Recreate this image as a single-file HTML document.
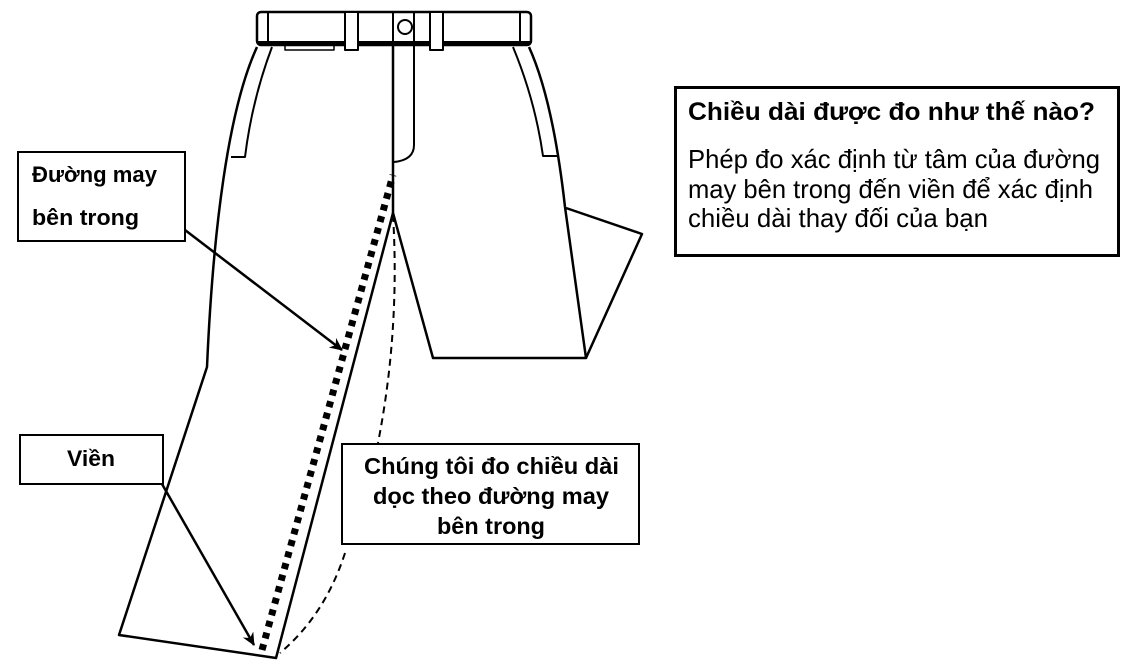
<!DOCTYPE html>
<html><head><meta charset="utf-8"><style>
html,body{margin:0;padding:0;background:#fff;}
svg{display:block;}
text{font-family:"Liberation Sans",Arial,sans-serif;fill:#000;}
</style></head><body>
<svg width="1126" height="666" viewBox="0 0 1126 666" xmlns="http://www.w3.org/2000/svg">
<defs>
<marker id="ah" markerWidth="14" markerHeight="14" refX="12" refY="6" orient="auto" markerUnits="userSpaceOnUse">
<path d="M0,0 L13,6 L0,12 L4,6 Z" fill="#000"/>
</marker>
</defs>
<g fill="none" stroke="#000" stroke-width="2.5" stroke-linejoin="round">
<rect x="257" y="12" width="274" height="33" rx="4"/>
<line x1="268" y1="13" x2="268" y2="44" stroke-width="2"/>
<line x1="520" y1="13" x2="520" y2="44" stroke-width="2"/>
<line x1="258" y1="43" x2="530" y2="43" stroke-width="4"/>
<rect x="345" y="12" width="13" height="38" fill="#fff" stroke-width="2"/>
<rect x="430" y="12" width="13" height="38" fill="#fff" stroke-width="2"/>
<rect x="285" y="45" width="49" height="5" stroke-width="1.5"/>
<line x1="393" y1="12" x2="393" y2="45" stroke-width="2"/>
<line x1="414" y1="12" x2="414" y2="45" stroke-width="2"/>
<circle cx="405" cy="27" r="7" stroke-width="2"/>
<line x1="393" y1="45" x2="393" y2="213"/>
<path d="M414,45 L414,145 Q414,160 394,162" stroke-width="2"/>
<path d="M257,47 C228,110 213,230 207,367 L119,635 L276,658 L393,213"/>
<path d="M272,47 Q252,100 245,157 L231,157" stroke-width="2"/>
<path d="M393,213 L433,358 L586,358 L565,207 Q553,100 529,47"/>
<path d="M513,47 Q535,100 543,156 L558,156" stroke-width="2"/>
<path d="M566,208 L642,234 L586,358"/>
</g>
<line x1="262" y1="650" x2="393" y2="175" stroke="#000" stroke-width="7" stroke-dasharray="6,6"/>
<path d="M393,215 Q400,330 378,443" fill="none" stroke="#000" stroke-width="2" stroke-dasharray="7,5"/>
<path d="M345,553 Q325,615 280,653" fill="none" stroke="#000" stroke-width="2" stroke-dasharray="7,5"/>
<line x1="185" y1="230" x2="342" y2="350" stroke="#000" stroke-width="2.5" marker-end="url(#ah)"/>
<line x1="162" y1="484" x2="254" y2="645" stroke="#000" stroke-width="2.5" marker-end="url(#ah)"/>
<rect x="18" y="152" width="167" height="89" fill="#fff" stroke="#000" stroke-width="2"/>
<text x="32" y="182" font-size="22" font-weight="bold" textLength="125" lengthAdjust="spacingAndGlyphs">Đường may</text>
<text x="32" y="225" font-size="22" font-weight="bold" textLength="107" lengthAdjust="spacingAndGlyphs">bên trong</text>
<rect x="20" y="435" width="143" height="49" fill="#fff" stroke="#000" stroke-width="2"/>
<text x="67" y="466" font-size="22" font-weight="bold" textLength="48" lengthAdjust="spacingAndGlyphs">Viền</text>
<rect x="342" y="444" width="297" height="100" fill="#fff" stroke="#000" stroke-width="2"/>
<g font-size="23" font-weight="bold">
<text x="364" y="474" textLength="255" lengthAdjust="spacingAndGlyphs">Chúng tôi đo chiều dài</text>
<text x="373" y="504" textLength="236" lengthAdjust="spacingAndGlyphs">dọc theo đường may</text>
<text x="437" y="534" textLength="108" lengthAdjust="spacingAndGlyphs">bên trong</text>
</g>
<rect x="675.5" y="87.5" width="443" height="168" fill="#fff" stroke="#000" stroke-width="3"/>
<text x="688" y="120" font-size="25" font-weight="bold" textLength="407" lengthAdjust="spacingAndGlyphs">Chiều dài được đo như thế nào?</text>
<g font-size="26">
<text x="688" y="168" textLength="412" lengthAdjust="spacingAndGlyphs">Phép đo xác định từ tâm của đường</text>
<text x="688" y="198" textLength="405" lengthAdjust="spacingAndGlyphs">may bên trong đến viền để xác định</text>
<text x="688" y="227" textLength="300" lengthAdjust="spacingAndGlyphs">chiều dài thay đối của bạn</text>
</g>
</svg>
</body></html>
